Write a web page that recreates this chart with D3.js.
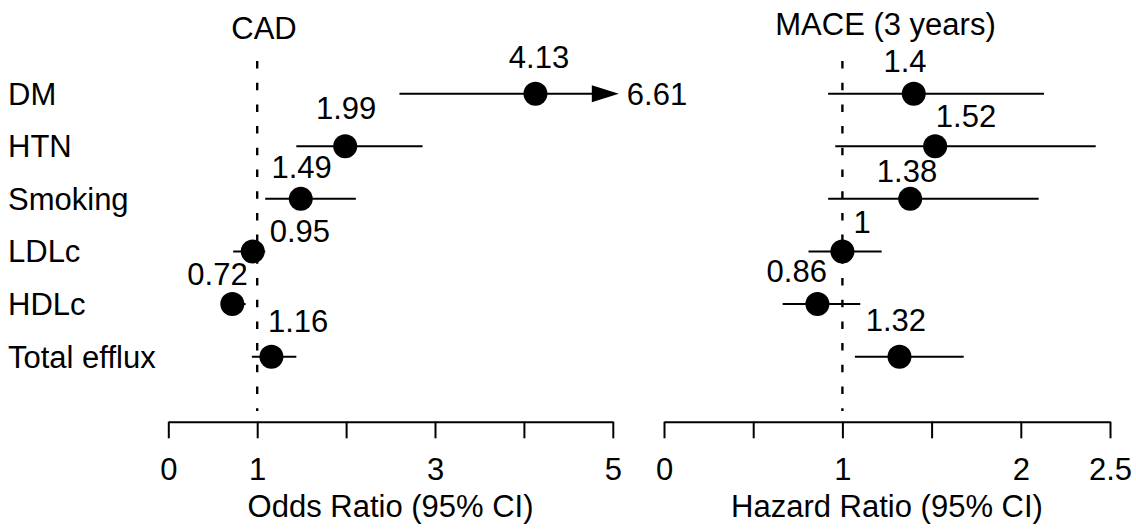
<!DOCTYPE html>
<html>
<head>
<meta charset="utf-8">
<script src="https://cdn.jsdelivr.net/npm/d3@7"></script>
<style>
  html, body { margin: 0; padding: 0; background: #fff; }
  svg { display: block; }
  text { font-family: "Liberation Sans", Arial, Helvetica, sans-serif; fill: #000; }
</style>
</head>
<body>
<svg id="chart" width="1136" height="529"></svg>
<script>
// ---------- data ----------
const categories = ["DM", "HTN", "Smoking", "LDLc", "HDLc", "Total efflux"];

// CAD: odds ratios (95% CI)
const cadOR    = [4.13, 1.99, 1.49, 0.95, 0.72, 1.16];
const cadLower = [2.60, 1.44, 1.09, 0.73, 0.60, 0.94];
const cadUpper = [6.61, 2.86, 2.11, 1.09, 0.87, 1.44];
// label anchor (value units, row units) as placed in the figure
const cadLabelX   = [4.17, 2.00, 1.50, 1.48, 0.553, 1.46];
const cadLabelRow = [-0.488, 0.482, 1.604, 2.815, 3.638, 4.526];

// MACE (3 years): hazard ratios (95% CI)
const maceHR    = [1.40, 1.52, 1.38, 1.00, 0.86, 1.32];
const maceLower = [0.92, 0.96, 0.92, 0.81, 0.665, 1.07];
const maceUpper = [2.13, 2.42, 2.10, 1.22, 1.10, 1.68];
const maceLabelX   = [1.351, 1.693, 1.362, 1.110, 0.744, 1.300];
const maceLabelRow = [-0.417, 0.628, 1.674, 2.655, 3.575, 4.507];

// axes
const cadTicks = [0, 1, 2, 3, 4, 5];
const cadTickLabels = ["0", "1", "", "3", "", "5"];
const maceTicks = [0, 0.5, 1, 1.5, 2, 2.5];
const maceTickLabels = ["0", "", "1", "", "2", "2.5"];

// ---------- layout ----------
const FS = 31;
const svg = d3.select("#chart");
const y = d3.scaleLinear().domain([0, 5]).range([93.65, 356.7]);
const axisY = 421.7;

function panel(opts) {
  const { x, est, lo, hi, labX, labRow, ticks, tickLabels, title, titleX, titleY, xTitle, clipMax } = opts;
  const g = svg.append("g");

  // reference line at 1
  g.append("line")
    .attr("x1", x(1)).attr("x2", x(1))
    .attr("y1", 61).attr("y2", 411)
    .attr("stroke", "#000").attr("stroke-width", 2.4)
    .attr("stroke-dasharray", "7.5,14.2");

  // CI lines
  est.forEach((v, i) => {
    const clipped = clipMax !== undefined && hi[i] > clipMax;
    const x2 = clipped ? x(clipMax) + 6 - 20 : x(hi[i]);
    g.append("line")
      .attr("x1", x(lo[i])).attr("x2", x2)
      .attr("y1", y(i)).attr("y2", y(i))
      .attr("stroke", "#000").attr("stroke-width", 2);
    if (clipped) {
      const tip = x(clipMax) + 6;
      g.append("path")
        .attr("d", `M${tip},${y(i)}L${tip - 27},${y(i) - 8.5}L${tip - 27},${y(i) + 8.5}Z`)
        .attr("fill", "#000");
      g.append("text")
        .attr("x", tip + 8).attr("y", y(i)).attr("dy", "0.35em")
        .attr("font-size", FS)
        .text(String(hi[i]));
    }
  });

  // points
  g.selectAll("circle.pt").data(est).join("circle")
    .attr("class", "pt")
    .attr("cx", d => x(d)).attr("cy", (d, i) => y(i))
    .attr("r", 12).attr("fill", "#000");

  // value labels
  g.selectAll("text.val").data(est).join("text")
    .attr("class", "val")
    .attr("x", (d, i) => x(labX[i]))
    .attr("y", (d, i) => y(labRow[i]))
    .attr("text-anchor", "middle")
    .attr("font-size", FS)
    .text(d => String(d));

  // axis
  const ax = d3.axisBottom(x)
    .tickValues(ticks)
    .tickFormat((d, i) => tickLabels[i])
    .tickSize(16.6).tickSizeOuter(0).tickPadding(19.5);
  const axg = g.append("g").attr("transform", `translate(0,${axisY})`).call(ax);
  axg.select(".domain").attr("stroke-width", 2);
  axg.selectAll(".tick line").attr("stroke-width", 2);
  axg.selectAll(".tick text")
    .attr("font-size", FS)
    .attr("font-family", '"Liberation Sans", Arial, sans-serif')
    .attr("fill", "#000");

  // axis title
  const [r0, r1] = x.range();
  g.append("text")
    .attr("x", (r0 + r1) / 2).attr("y", 516.7)
    .attr("text-anchor", "middle").attr("font-size", FS)
    .text(xTitle);

  // panel title
  g.append("text")
    .attr("x", titleX).attr("y", titleY)
    .attr("text-anchor", "middle").attr("font-size", FS)
    .text(title);
}

const xCad = d3.scaleLinear().domain([0, 5]).range([168.3, 612.8]);
const xMace = d3.scaleLinear().domain([0, 2.5]).range([664, 1110]);

panel({
  x: xCad, est: cadOR, lo: cadLower, hi: cadUpper,
  labX: cadLabelX, labRow: cadLabelRow,
  ticks: cadTicks, tickLabels: cadTickLabels,
  title: "CAD", titleX: 264, titleY: 38.5,
  xTitle: "Odds Ratio (95% CI)", clipMax: 5
});
panel({
  x: xMace, est: maceHR, lo: maceLower, hi: maceUpper,
  labX: maceLabelX, labRow: maceLabelRow,
  ticks: maceTicks, tickLabels: maceTickLabels,
  title: "MACE (3 years)", titleX: 885.5, titleY: 35,
  xTitle: "Hazard Ratio (95% CI)"
});

// row labels
svg.selectAll("text.cat").data(categories).join("text")
  .attr("class", "cat")
  .attr("x", 8).attr("y", (d, i) => y(i)).attr("dy", "0.35em")
  .attr("font-size", FS)
  .text(d => d);
</script>
</body>
</html>
